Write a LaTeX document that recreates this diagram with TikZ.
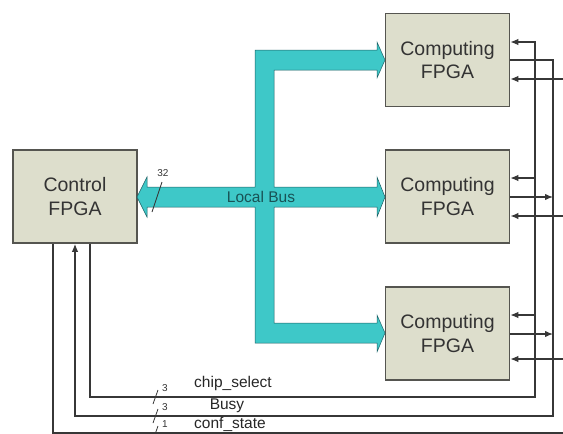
\documentclass[tikz,border=0pt]{standalone}
\usepackage{fontspec}
\setmainfont{Liberation Sans}
\usetikzlibrary{arrows.meta}
\definecolor{busfill}{RGB}{62,200,200}
\definecolor{busline}{RGB}{28,96,100}
\definecolor{boxfill}{RGB}{221,222,204}
\definecolor{boxline}{RGB}{85,85,80}
\definecolor{wirec}{RGB}{55,55,55}
\begin{document}
\begin{tikzpicture}[
    x=1pt,
    y=-1pt,
    fpga/.style={draw=boxline, line width=1.6pt, fill=boxfill,
        minimum width=124pt, minimum height=93pt, align=center,
        font=\fontsize{19.5}{23.5}\selectfont, text=black!80},
    wire/.style={draw=wirec, line width=1.3pt},
    tip/.style={-{Latex[length=8pt,width=6.5pt]}},
    lbl/.style={font=\fontsize{15.5}{17}\selectfont, text=black!85, inner sep=1pt},
    num/.style={font=\fontsize{10}{10}\selectfont, text=black!80, inner sep=0pt}
]
    \useasboundingbox (0,0) rectangle (563,434);

    % FPGA boxes
    \node[fpga] (ctrl) at (75,196.5) {Control\\FPGA};
    \node[fpga] (comp1) at (447.5,60) {Computing\\FPGA};
    \node[fpga] (comp2) at (447.5,196.5) {Computing\\FPGA};
    \node[fpga] (comp3) at (447.5,333.5) {Computing\\FPGA};

    % local bus
    \filldraw[fill=busfill, draw=busline, line width=0.5pt]
        (137,197) -- (147,177) -- (147,187) -- (255,187) -- (255,50)
        -- (377,50) -- (377,42) -- (385,60) -- (377,78) -- (377,70)
        -- (274,70) -- (274,187) -- (377,187) -- (377,177) -- (385,197)
        -- (377,217) -- (377,207) -- (274,207) -- (274,323) -- (377,323)
        -- (377,315) -- (385,333) -- (377,352) -- (377,343) -- (255,343)
        -- (255,207) -- (147,207) -- (147,217) -- cycle;
    \node[lbl, text=busline!85!black] (lbus) at (261,197) {Local Bus};
    \draw[wirec, line width=0.8pt] (152,212) -- (162,182);
    \node[num] (w32) at (163,173) {32};

    % rails
    \coordinate (csL) at (90,397);
    \coordinate (csR) at (535,397);
    \coordinate (byL) at (75,416);
    \coordinate (byR) at (553,416);
    \coordinate (cfL) at (53,433);
    \coordinate (cfR) at (563,433);

    % ports of the computing FPGAs
    \foreach \i/\ya/\yb/\yc in {1/42/60/79, 2/178/197/216, 3/315/334/359} {
        \coordinate (p\i a) at (comp\i.east |- 0,\ya);
        \coordinate (p\i b) at (comp\i.east |- 0,\yb);
        \coordinate (p\i c) at (comp\i.east |- 0,\yc);
        \coordinate (e\i) at (563,\yc);
    }

    % chip_select
    \draw[wire, tip] (ctrl.south -| csL) -- (csL) -- (csR) -- (csR |- p1a) -- (p1a);
    \foreach \i in {2,3}
        \draw[wire, tip] (csR |- p\i a) -- (p\i a);

    % Busy
    \draw[wire, tip] (p1b) -- (byR |- p1b) -- (byR) -- (byL) -- (ctrl.south -| byL);
    \foreach \i in {2,3}
        \draw[wire, tip] (p\i b) -- (byR |- p\i b);

    % conf_state
    \draw[wire] (ctrl.south -| cfL) -- (cfL) -- (cfR);

    % inputs from the right
    \foreach \i/\w in {1/1.3pt, 2/2.2pt, 3/1.3pt}
        \draw[wire, tip, line width=\w] (e\i) -- (p\i c);

    % bus widths
    \foreach \yy/\nn in {397/3, 416/3, 433/1} {
        \draw[wirec, line width=0.8pt] (153,\yy+7) -- (158,\yy-7);
        \node[num] at (165,\yy-9) {\nn};
    }
    \node[lbl] (csl) at (233,383) {chip\_select};
    \node[lbl] (byl) at (227,406) {Busy};
    \node[lbl] (cfl) at (230,424) {conf\_state};

\end{tikzpicture}
\end{document}
